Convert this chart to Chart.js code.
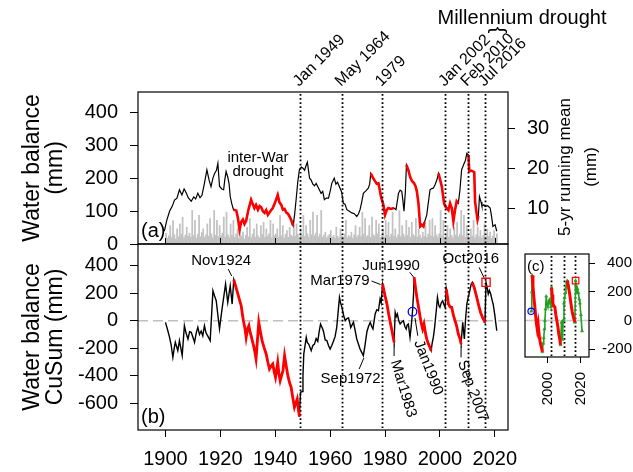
<!DOCTYPE html>
<html>
<head>
<meta charset="utf-8">
<script src="https://cdn.jsdelivr.net/npm/chart.js@4.4.1/dist/chart.umd.min.js"></script>
<style>
html, body { margin: 0; padding: 0; background: #fff; }
#wrap { position: relative; width: 633px; height: 472px; }
#wrap canvas { position: absolute; left: 0; top: 0; }
</style>
</head>
<body>
<div id="wrap">
  <canvas id="panelA" width="633" height="472"></canvas>
  <canvas id="panelB" width="633" height="472"></canvas>
  <canvas id="panelC" width="633" height="472"></canvas>
</div>
<script>
// monthly water balance, sampled every half year from 1900 (mm)
var wbStart = 1900, wbStep = 0.5;
var wbHalfYear = [
  33,18,25,56,20,71,28,15,46,22,61,30,81,19,27,51,24,33,21,102,
  26,72,18,30,87,22,35,46,20,28,61,24,77,31,19,102,27,72,22,56,
  25,33,82,21,97,28,19,61,26,72,20,30,46,18,56,24,36,15,27,51,
  22,77,19,30,46,21,61,25,18,56,29,66,20,46,24,31,72,19,61,26,
  30,46,21,87,25,56,18,29,41,20,51,27,22,72,24,61,30,19,46,26,
  87,23,56,31,20,72,28,97,25,33,87,22,30,102,21,27,36,18,24,29,
  41,20,26,18,51,23,19,46,25,21,30,72,19,26,22,36,18,28,56,21,
  27,51,23,97,30,77,22,26,56,20,82,28,24,72,31,61,19,25,46,22,
  72,26,66,21,30,97,24,46,19,28,102,23,56,30,22,72,26,51,20,66,
  29,24,77,21,46,27,18,36,23,56,20,30,72,25,77,22,56,28,19,31,
  102,24,72,20,28,56,21,46,26,19,51,27,66,22,30,102,25,87,21,56,
  26,20,46,24,72,19,28,51,22,41,18,26,61,21,46,23,36,17,24,41,
  19,31
];

// 5-yr running mean [year, mm]
var runMean = [
  [1899.6,4.2],[1900.5,7.0],[1901.5,9.2],[1902.5,10.5],[1903.3,12.0],[1904.2,12.5],[1905.1,14.6],[1906.0,13.3],
  [1906.8,14.8],[1907.5,13.9],[1908.3,12.6],[1909.4,11.7],[1910.3,12.8],[1911.0,12.3],[1911.8,13.7],[1912.6,12.6],
  [1913.3,13.2],[1914.2,16.2],[1915.1,19.6],[1915.9,17.0],[1916.6,15.4],[1917.3,17.5],[1917.9,18.7],[1918.6,19.5],
  [1919.1,21.2],[1919.7,15.5],[1920.5,14.8],[1921.2,14.6],[1921.6,17.0],[1922.1,19.2],[1922.7,17.8],[1923.2,16.0],
  [1923.6,12.9],[1924.2,11.0],[1924.8,9.6],
  [1925.8,9.4],[1926.4,7.5],[1927.0,4.6],[1927.6,6.5],[1928.2,7.1],[1928.8,6.0],[1929.4,6.8],[1930.2,9.5],
  [1931.2,12.1],[1931.8,11.0],[1932.4,10.0],[1933.0,10.8],[1933.7,9.6],[1934.3,10.5],[1934.9,10.2],[1935.5,9.2],
  [1936.1,8.8],[1936.7,9.5],[1937.3,8.3],[1938.2,9.2],[1939.1,10.0],[1940.0,11.5],[1940.9,13.3],[1941.5,11.5],
  [1942.2,10.8],[1942.8,9.6],[1943.4,9.8],[1944.0,8.9],[1944.6,8.6],[1945.2,7.9],[1945.8,7.0],[1946.5,5.6],
  [1947.0,8.0],[1947.6,12.1],[1948.2,16.5],[1948.8,19.6],[1949.5,20.3],[1950.1,20.0],[1950.7,19.5],[1951.3,20.8],
  [1951.7,21.5],[1952.5,17.5],[1953.1,17.0],[1953.7,16.0],[1954.3,15.6],[1954.9,16.2],[1955.8,15.0],[1956.7,13.7],
  [1957.3,14.2],[1957.9,12.1],[1958.6,12.5],[1959.4,12.5],[1960.1,14.5],[1960.6,16.2],[1961.5,17.5],[1962.1,16.0],
  [1962.7,16.5],[1963.6,15.0],[1964.2,14.0],[1964.8,11.2],[1965.4,11.0],[1966.1,9.6],[1967.0,9.2],[1967.9,8.8],
  [1968.8,8.6],[1969.7,7.9],[1970.3,8.5],[1970.9,9.6],[1971.5,11.5],[1972.1,13.7],[1973.0,14.3],[1973.9,15.0],
  [1974.4,16.0],[1974.8,18.7],
  [1975.6,17.6],[1976.4,16.7],[1977.0,16.1],[1977.6,16.2],[1978.1,14.5],[1978.5,12.9],[1979.4,10.8],[1980.0,8.3],
  [1980.6,9.5],[1981.2,10.0],[1982.2,9.8],[1983.3,10.0],
  [1984.0,9.6],[1984.9,13.7],[1985.5,14.5],[1986.1,14.2],[1986.5,12.0],[1986.9,9.2],[1987.4,14.0],[1987.8,20.8],
  [1988.5,19.5],[1989.1,17.9],[1989.8,16.8],[1990.6,16.2],[1991.1,15.5],[1991.6,14.2],[1992.2,11.0],[1992.8,5.4],
  [1993.4,5.8],[1994.0,5.4],[1994.4,6.5],
  [1995.2,8.3],[1995.8,11.5],[1996.4,14.6],[1997.0,14.9],[1997.6,15.0],[1998.3,16.0],[1998.9,17.1],[1999.5,18.7],
  [2000.1,17.0],[2000.7,15.4],[2001.5,11.2],[2002.0,10.4],[2002.5,10.0],[2003.1,9.5],[2003.7,11.2],[2004.3,10.0],
  [2004.9,6.7],[2005.5,9.5],[2006.1,11.7],[2006.7,11.2],
  [2007.3,14.6],[2007.9,19.6],[2008.8,21.2],[2009.3,22.0],[2009.8,23.7],[2010.4,23.3],
  [2010.7,19.2],[2011.5,19.4],[2012.5,19.0],[2012.8,11.7],[2013.3,9.0],[2013.7,7.1],[2014.0,8.0],
  [2014.4,12.9],[2015.0,11.5],[2015.3,10.5],[2016.0,10.8],[2016.5,10.4],[2017.4,10.6],[2018.3,10.0],[2018.8,8.0],
  [2019.3,5.4],[2020.1,5.8],[2020.7,4.2]
];
var rmRed = [[1924.8,1946.5],[1974.8,1983.3],[1987.8,1994.4],[1999.5,2006.7],[2010.4,2014.0]];

// water balance CuSum [year, mm]
var cuSum = [
  [1900.0,-12],[1900.7,-60],[1901.5,-121],[1902.1,-180],[1902.7,-266],[1903.2,-200],[1903.6,-157],[1904.5,-218],
  [1905.1,-145],[1905.6,-200],[1906.1,-254],[1906.9,-36],[1907.5,-90],[1908.2,-133],[1908.8,-80],[1909.4,-85],
  [1910.0,-120],[1910.6,-157],[1911.2,-90],[1911.8,-48],[1912.4,-100],[1913.0,-75],[1913.6,-110],[1914.2,-36],
  [1914.8,-90],[1915.4,-110],[1916.3,-145],[1917.3,218],[1917.9,180],[1918.5,145],[1919.1,40],[1919.7,-60],
  [1920.2,20],[1920.7,97],[1921.3,180],[1921.9,267],[1922.3,200],[1922.7,133],[1923.2,200],[1923.6,254],
  [1924.0,180],[1924.3,121],[1924.9,298],
  [1925.6,250],[1926.4,194],[1927.0,150],[1927.6,109],[1928.0,50],[1928.4,0],[1929.0,-60],[1929.4,-121],
  [1929.9,-60],[1930.4,-36],[1930.8,-80],[1931.2,-109],[1932.1,-182],[1932.6,-230],[1933.0,-278],[1934.0,-12],
  [1934.6,-80],[1935.2,-145],[1936.0,-200],[1936.7,-242],[1937.3,-300],[1937.9,-351],[1938.5,-330],[1939.1,-315],
  [1939.6,-370],[1940.1,-412],[1940.9,-303],[1941.3,-380],[1941.8,-436],[1942.3,-400],[1942.8,-364],[1943.4,-254],
  [1944.0,-330],[1944.6,-400],[1945.2,-450],[1945.8,-484],[1946.4,-560],[1947.0,-630],[1948.0,-569],[1948.4,-640],
  [1948.8,-698],
  [1949.2,-521],[1949.8,-515],[1950.1,-400],[1950.4,-242],[1951.3,-121],[1951.7,-160],[1952.2,-170],[1953.1,-218],
  [1953.7,-180],[1954.3,-170],[1954.9,-130],[1955.5,-150],[1956.0,-80],[1956.5,-24],[1957.3,-60],[1957.6,-80],
  [1958.2,-140],[1958.8,-145],[1959.4,-180],[1960.0,-206],[1960.6,-180],[1961.2,-150],[1961.8,-116],[1962.4,-48],
  [1963.4,170],[1963.8,130],[1964.3,97],[1964.9,40],[1965.5,0],[1966.1,15],[1966.7,20],[1967.1,-10],
  [1967.5,-50],[1968.0,-30],[1968.5,-10],[1969.1,-70],[1969.7,-133],[1970.3,-170],[1970.9,-206],[1971.5,-230],
  [1972.1,-254],[1972.7,-180],[1973.4,-80],[1974.0,-40],[1974.6,-12],[1975.1,-40],[1975.6,-60],[1976.4,49],
  [1977.0,80],[1977.6,73],[1978.2,158],[1978.6,130],[1979.1,267],
  [1979.9,190],[1980.7,121],[1981.3,50],[1981.9,-12],[1982.6,-80],[1983.3,-157],
  [1983.7,61],[1984.1,30],[1984.5,50],[1985.0,0],[1985.5,-24],[1986.1,-10],[1986.7,0],[1987.2,-40],
  [1987.7,-60],[1988.1,-30],[1988.5,-24],[1989.1,-121],[1989.6,-30],[1990.0,65],[1990.4,200],[1990.6,316],
  [1991.1,240],[1991.6,170],[1992.2,100],[1992.8,25],[1993.2,-20],[1993.7,-60],[1994.2,-24],[1994.9,-109],
  [1995.3,-140],[1995.8,-169],[1996.3,-190],[1996.8,-218],
  [1997.2,-160],[1997.6,-121],[1998.0,-60],[1998.3,0],[1998.7,80],[1999.1,170],[1999.6,110],[2000.0,97],
  [2000.5,130],[2001.0,145],[2001.4,120],[2001.9,97],[2002.3,231],
  [2002.7,180],[2003.1,121],[2003.7,100],[2004.3,97],[2004.9,40],[2005.5,0],[2006.1,-40],[2006.7,-97],
  [2007.3,-130],[2007.7,-169],
  [2008.3,-12],[2008.9,-133],[2009.3,0],[2009.8,121],[2010.2,160],[2010.6,194],[2011.0,230],[2011.4,267],
  [2011.8,279],
  [2012.5,240],[2013.3,180],[2014.0,120],[2014.8,60],[2015.6,20],[2016.4,-12],
  [2016.8,279],[2017.2,240],[2017.6,194],[2018.0,220],[2018.5,194],[2019.0,150],[2019.4,121],[2020.0,40],
  [2020.7,-73]
];
var cuRed = [[1924.9,1948.8],[1979.1,1983.3],[1990.6,1996.8],[2002.3,2007.7],[2011.8,2016.4]];

var startMark = [1990.0, 65];
var endMark = [2016.8, 279];

var eventYears = [1949.0, 1964.35, 1979.0, 2002.0, 2010.1, 2016.5];
var eventLabels = ['Jan 1949', 'May 1964', '1979', 'Jan 2002', 'Feb 2010', 'Jul 2016'];
var insetEvents = [2002.0, 2010.1, 2016.5];

var xTicks = [1900, 1920, 1940, 1960, 1980, 2000, 2020];
var wbTicks = [0, 100, 200, 300, 400];
var rmTicks = [10, 20, 30];
var cuTicks = [-600, -400, -200, 0, 200, 400];
var insetXTicks = [2000, 2020];
var insetYTicks = [-200, 0, 200, 400];

// labels on the CuSum panel: anchor point, text offset and leader line in px
var cuNotes = [
  { text: 'Nov1924', at: [1924.9, 298], dx: -12.6, dy: -18.7, align: 'center', rot: 0, lead: [-5.6, -10.7, -2.1, -3.7] },
  { text: 'Mar1979', at: [1979.1, 267], dx: -13, dy: -3, align: 'right', rot: 0, lead: [-11, -3, -2, 0.5] },
  { text: 'Jun1990', at: [1990.6, 316], dx: -23, dy: -11.5, align: 'center', rot: 0, lead: [-4.4, -5, -0.4, 0] },
  { text: 'Sep1972', at: [1972.1, -254], dx: -12.7, dy: 23.4, align: 'center', rot: 0, lead: [-4.2, 13.4, 0.5, 2.4] },
  { text: 'Mar1983', at: [1983.3, -157], dx: 0.5, dy: 18, align: 'left', rot: 73, lead: [0, 2, 0, 13.7] },
  { text: 'Jan1990', at: [1990.0, 65], dx: 5.5, dy: 29, align: 'left', rot: 69, lead: [2.5, 6.2, 5.3, 24] },
  { text: 'Sep 2007', at: [2007.7, -169], dx: 0.6, dy: 17, align: 'left', rot: 70, lead: [0, 2, 0, 13.4] },
  { text: 'Oct2016', at: [2016.8, 279], dx: -15.2, dy: -23.3, align: 'center', rot: 0, lead: [-6.9, -15, -2.2, -5] }
];

var FAM = "'Liberation Sans', Arial, Helvetica, sans-serif";
Chart.defaults.font.family = FAM;
Chart.defaults.color = '#000';

function pts(list) {
  return list.map(function (p) { return { x: p[0], y: p[1] }; });
}
function inside(x, ranges) {
  return ranges.some(function (r) { return x >= r[0] - 1e-6 && x <= r[1] + 1e-6; });
}
function strictlyOutside(x, ranges) {
  return ranges.every(function (r) { return x <= r[0] + 1e-6 || x >= r[1] - 1e-6; });
}
function part(list, ranges) {
  return list.map(function (p) { return { x: p[0], y: inside(p[0], ranges) ? p[1] : null }; });
}
function rest(list, ranges) {
  return list.map(function (p) { return { x: p[0], y: strictlyOutside(p[0], ranges) ? p[1] : null }; });
}
function fixTicks(list) {
  return function (s) { s.ticks = list.map(function (v) { return { value: v }; }); };
}
function label(v) { return String(v); }

var wbPoints = wbHalfYear.map(function (v, i) { return { x: wbStart + i * wbStep + wbStep / 2, y: v }; });
var insetSeries = cuSum.filter(function (p) { return p[0] >= startMark[0]; });

function frame(chart) {
  var a = chart.chartArea, ctx = chart.ctx;
  ctx.save();
  ctx.strokeStyle = '#000';
  ctx.lineWidth = 1.2;
  ctx.strokeRect(a.left, a.top, a.right - a.left, a.bottom - a.top);
  ctx.restore();
}
function dotted(chart, years) {
  var ctx = chart.ctx, a = chart.chartArea, xs = chart.scales.x;
  ctx.save();
  ctx.strokeStyle = '#000';
  ctx.lineWidth = 1.8;
  ctx.setLineDash([1.7, 2.4]);
  years.forEach(function (yr) {
    var px = Math.round(xs.getPixelForValue(yr)) + 0.5;
    ctx.beginPath();
    ctx.moveTo(px, a.top + 2);
    ctx.lineTo(px, a.bottom);
    ctx.stroke();
  });
  ctx.restore();
}
function text(ctx, s, x, y, size, align, rot, base) {
  ctx.save();
  ctx.font = size + 'px ' + FAM;
  ctx.fillStyle = '#000';
  ctx.textAlign = align || 'center';
  ctx.textBaseline = base || 'middle';
  ctx.translate(x, y);
  if (rot) ctx.rotate(rot * Math.PI / 180);
  ctx.fillText(s, 0, 0);
  ctx.restore();
}
function zeroLine(chart, dash, color) {
  var ctx = chart.ctx, a = chart.chartArea;
  var py = chart.scales.y.getPixelForValue(0);
  ctx.save();
  ctx.strokeStyle = color;
  ctx.lineWidth = 1.5;
  ctx.setLineDash(dash);
  ctx.beginPath();
  ctx.moveTo(a.left, py);
  ctx.lineTo(a.right, py);
  ctx.stroke();
  ctx.restore();
}

var tickGrid = { drawOnChartArea: false, tickLength: 8, color: '#000', tickColor: '#000', lineWidth: 1 };

// ---------- panel (a) ----------
var panelAPlugin = {
  id: 'panelA',
  afterDatasetsDraw: function (chart) {
    var ctx = chart.ctx, a = chart.chartArea, xs = chart.scales.x;
    dotted(chart, eventYears);
    frame(chart);
    ctx.save();
    ctx.strokeStyle = '#000';
    ctx.lineWidth = 1;
    xTicks.forEach(function (v) {
      var px = Math.round(xs.getPixelForValue(v)) + 0.5;
      ctx.beginPath();
      ctx.moveTo(px, a.bottom);
      ctx.lineTo(px, a.bottom - 6);
      ctx.stroke();
    });
    ctx.restore();
    eventYears.forEach(function (yr, i) {
      text(ctx, eventLabels[i], xs.getPixelForValue(yr) - 1, a.top - 5, 16, 'left', -45, 'alphabetic');
    });
    text(ctx, 'Millennium drought', a.right + 14, 18, 20, 'center');
    text(ctx, '}', a.right - 11, 30, 20, 'center', -90);
    var lx = xs.getPixelForValue(1933.7);
    text(ctx, 'inter-War', lx, 157.5, 15, 'center');
    text(ctx, 'drought', lx, 172, 15, 'center');
    text(ctx, '(a)', a.left + 3, a.bottom - 13, 20, 'left');
    ctx.save();
    ctx.font = '17px ' + FAM;
    ctx.fillStyle = '#000';
    ctx.textAlign = 'center';
    ctx.textBaseline = 'middle';
    ctx.translate(a.right + 57, (a.top + a.bottom) / 2 - 1);
    ctx.rotate(-Math.PI / 2);
    ctx.fillText('5-yr running mean', 0, 0);
    ctx.fillText('(mm)', 0, 26);
    ctx.restore();
  }
};

new Chart(document.getElementById('panelA'), {
  type: 'line',
  data: {
    datasets: [
      { data: part(runMean, rmRed), yAxisID: 'yR', borderColor: '#ff0000', borderWidth: 2.6, pointRadius: 0, order: 0 },
      { data: pts(runMean), yAxisID: 'yR', borderColor: '#000', borderWidth: 1.2, pointRadius: 0, order: 1 },
      { type: 'bar', data: wbPoints, yAxisID: 'yL', backgroundColor: '#c2c2c2', borderWidth: 0, barThickness: 1.1, order: 2 }
    ]
  },
  options: {
    responsive: false,
    animation: false,
    devicePixelRatio: 1,
    layout: { padding: { top: 92, bottom: 228, left: 0, right: 0 } },
    plugins: { legend: { display: false }, tooltip: { enabled: false } },
    elements: { line: { tension: 0 } },
    scales: {
      x: { type: 'linear', min: 1890, max: 2024.8, offset: false, display: false },
      yL: {
        type: 'linear', position: 'left', min: 0, max: 462,
        afterBuildTicks: fixTicks(wbTicks),
        afterFit: function (s) { s.width = 138; },
        border: { display: false },
        grid: tickGrid,
        ticks: { font: { size: 20 }, padding: 12, callback: label },
        title: { display: true, text: ['Water balance', '(mm)'], font: { size: 23, lineHeight: 1 }, padding: { top: 21, bottom: 0 } }
      },
      yR: {
        type: 'linear', position: 'right', min: 1, max: 39.1,
        afterBuildTicks: fixTicks(rmTicks),
        afterFit: function (s) { s.width = 125; },
        border: { display: false },
        grid: { drawOnChartArea: false, tickLength: 7, color: '#000', tickColor: '#000', lineWidth: 1 },
        ticks: { font: { size: 20 }, padding: 12, callback: label }
      }
    }
  },
  plugins: [panelAPlugin]
});

// ---------- panel (b) ----------
var panelBPlugin = {
  id: 'panelB',
  beforeDatasetsDraw: function (chart) {
    zeroLine(chart, [10, 5], '#c0c0c0');
    dotted(chart, eventYears);
  },
  afterDatasetsDraw: function (chart) {
    var ctx = chart.ctx, a = chart.chartArea, xs = chart.scales.x, ys = chart.scales.y;
    frame(chart);
    cuNotes.forEach(function (n) {
      var ax = xs.getPixelForValue(n.at[0]), ay = ys.getPixelForValue(n.at[1]);
      ctx.save();
      ctx.strokeStyle = '#000';
      ctx.lineWidth = 1;
      ctx.beginPath();
      ctx.moveTo(ax + n.lead[0], ay + n.lead[1]);
      ctx.lineTo(ax + n.lead[2], ay + n.lead[3]);
      ctx.stroke();
      ctx.restore();
      text(ctx, n.text, ax + n.dx, ay + n.dy, 15, n.align, n.rot);
    });
    text(ctx, '(b)', a.left + 3, a.bottom - 13, 20, 'left');
  }
};

new Chart(document.getElementById('panelB'), {
  type: 'line',
  data: {
    datasets: [
      { data: [{ x: startMark[0], y: startMark[1] }], showLine: false, pointStyle: 'circle', pointRadius: 4.3,
        pointBorderColor: '#0000ff', pointBorderWidth: 1.3, pointBackgroundColor: 'rgba(0,0,0,0)' },
      { data: [{ x: endMark[0], y: endMark[1] }], showLine: false, pointStyle: 'rect', pointRadius: 5.8,
        pointBorderColor: '#ff0000', pointBorderWidth: 1.3, pointBackgroundColor: 'rgba(0,0,0,0)' },
      { data: part(cuSum, cuRed), borderColor: '#ff0000', borderWidth: 2.8, pointRadius: 0 },
      { data: pts(cuSum), borderColor: '#000', borderWidth: 1.4, pointRadius: 0 }
    ]
  },
  options: {
    responsive: false,
    animation: false,
    devicePixelRatio: 1,
    layout: { padding: { top: 244, right: 125, left: 0, bottom: 0 } },
    plugins: { legend: { display: false }, tooltip: { enabled: false } },
    elements: { line: { tension: 0 } },
    scales: {
      x: {
        type: 'linear', min: 1890, max: 2024.8, offset: false,
        afterBuildTicks: fixTicks(xTicks),
        afterFit: function (s) { s.height = 42; },
        border: { display: false },
        grid: { drawOnChartArea: false, tickLength: 7, color: '#000', tickColor: '#000', lineWidth: 1 },
        ticks: { font: { size: 20 }, padding: 10, maxRotation: 0, autoSkip: false, callback: label }
      },
      y: {
        type: 'linear', position: 'left', min: -795, max: 558,
        afterBuildTicks: fixTicks(cuTicks),
        afterFit: function (s) { s.width = 138; },
        border: { display: false },
        grid: tickGrid,
        ticks: { font: { size: 20 }, padding: 12, callback: label },
        title: { display: true, text: ['Water balance', 'CuSum (mm)'], font: { size: 23, lineHeight: 1 }, padding: { top: 21, bottom: 0 } }
      }
    }
  },
  plugins: [panelBPlugin]
});

// ---------- inset (c) ----------
var panelCPlugin = {
  id: 'panelC',
  beforeDatasetsDraw: function (chart) {
    zeroLine(chart, [], '#c8c8c8');
    dotted(chart, insetEvents);
  },
  afterDatasetsDraw: function (chart) {
    var a = chart.chartArea, xs = chart.scales.x;
    frame(chart);
    text(chart.ctx, '(c)', a.left + 2, a.top + 13, 15, 'left');
    insetXTicks.forEach(function (v) {
      text(chart.ctx, String(v), xs.getPixelForValue(v), a.bottom + 15, 15, 'right', -90);
    });
  }
};

new Chart(document.getElementById('panelC'), {
  type: 'line',
  data: {
    datasets: [
      { data: [{ x: startMark[0], y: startMark[1] }], showLine: false, pointStyle: 'circle', pointRadius: 3.2,
        pointBorderColor: '#0000ff', pointBorderWidth: 1.2, pointBackgroundColor: 'rgba(0,0,0,0)' },
      { data: [{ x: endMark[0], y: endMark[1] }], showLine: false, pointStyle: 'rect', pointRadius: 4.6,
        pointBorderColor: '#ff0000', pointBorderWidth: 1.2, pointBackgroundColor: 'rgba(0,0,0,0)' },
      { data: part(insetSeries, cuRed), borderColor: '#ff0000', borderWidth: 3, pointRadius: 0 },
      { data: rest(insetSeries, cuRed), borderColor: '#22a022', borderWidth: 1.6, pointStyle: 'triangle',
        pointRadius: 1.8, pointBackgroundColor: '#22a022', pointBorderColor: '#22a022', pointBorderWidth: 0.5 }
    ]
  },
  options: {
    responsive: false,
    animation: false,
    devicePixelRatio: 1,
    layout: { padding: { top: 254, right: 1, left: 525, bottom: 0 } },
    plugins: { legend: { display: false }, tooltip: { enabled: false } },
    elements: { line: { tension: 0 } },
    scales: {
      x: {
        type: 'linear', min: 1986.3, max: 2024.9, offset: false,
        afterBuildTicks: fixTicks(insetXTicks),
        afterFit: function (s) { s.height = 115; },
        border: { display: false },
        grid: { drawOnChartArea: false, tickLength: 6, color: '#000', tickColor: '#000', lineWidth: 1 },
        ticks: { display: false }
      },
      y: {
        type: 'linear', position: 'right', min: -254, max: 465,
        afterBuildTicks: fixTicks(insetYTicks),
        afterFit: function (s) { s.width = 43; },
        border: { display: false },
        grid: { drawOnChartArea: false, tickLength: 6, color: '#000', tickColor: '#000', lineWidth: 1 },
        ticks: { font: { size: 15 }, padding: 6, crossAlign: 'far', callback: label }
      }
    }
  },
  plugins: [panelCPlugin]
});
</script>
</body>
</html>
